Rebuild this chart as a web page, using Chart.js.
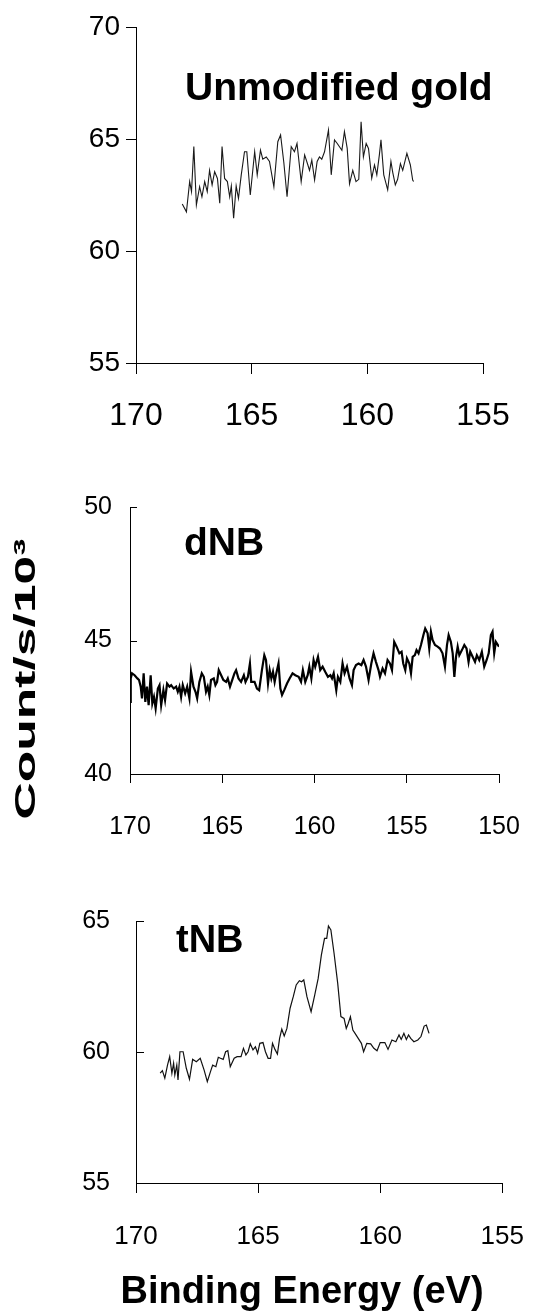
<!DOCTYPE html>
<html>
<head>
<meta charset="utf-8">
<script src="https://cdn.jsdelivr.net/npm/chart.js@4.4.1/dist/chart.umd.min.js"></script>
<style>
  body { margin: 0; background: #fff; }
  #wrap { position: relative; width: 552px; height: 1316px; }
  .panel { position: absolute; left: 0; }
</style>
</head>
<body>
<div id="wrap">
  <div class="panel" style="top:0;width:552px;height:440px"><canvas id="goldChart"></canvas></div>
  <div class="panel" style="top:470px;width:552px;height:400px"><canvas id="dnbChart"></canvas></div>
  <div class="panel" style="top:880px;width:552px;height:436px"><canvas id="tnbChart"></canvas></div>
</div>
<script>
// S 2p region, unmodified gold
const goldEnergy = [168.0, 167.82, 167.68, 167.6, 167.5, 167.39, 167.25, 167.15, 167.03, 166.92,
  166.82, 166.71, 166.6, 166.48, 166.38, 166.28, 166.17, 166.05, 165.95, 165.88,
  165.78, 165.67, 165.57, 165.45, 165.31, 165.21, 165.06, 164.87, 164.76, 164.62,
  164.52, 164.37, 164.23, 164.04, 163.87, 163.75, 163.61, 163.47, 163.29, 163.15,
  163.04, 162.86, 162.71, 162.57, 162.5, 162.4, 162.28, 162.17, 162.07, 161.97,
  161.85, 161.68, 161.56, 161.42, 161.3, 161.1, 160.99, 160.87, 160.77, 160.63,
  160.49, 160.37, 160.27, 160.17, 160.05, 159.95, 159.81, 159.69, 159.59, 159.48,
  159.41, 159.29, 159.12, 158.98, 158.9, 158.79, 158.69, 158.57, 158.47, 158.29,
  158.14, 158.04, 158.0];
const goldCounts = [62.1, 61.75, 63.1, 62.65, 64.66, 62.05, 62.87, 62.42, 63.1, 62.65,
  63.6, 62.95, 63.54, 63.24, 62.13, 64.66, 63.24, 63.1, 62.42, 62.9,
  61.46, 62.9, 62.35, 63.4, 64.43, 64.43, 62.5, 64.43, 63.4, 64.5,
  64.1, 64.2, 64.0, 62.87, 64.88, 65.18, 63.95, 62.42, 64.66, 64.43,
  64.8, 63.1, 64.29, 63.84, 63.6, 64.06, 63.17, 64.0, 64.2, 64.1,
  64.43, 65.4, 63.4, 64.96, 64.8, 64.5, 65.33, 64.58, 63.0, 63.6,
  63.1, 63.2, 65.77, 64.2, 64.8, 64.58, 63.25, 63.84, 63.4, 64.29,
  64.96, 63.4, 62.73, 64.0, 63.5, 62.95, 63.2, 63.9, 63.6, 64.36,
  63.84, 63.17, 63.1];

// dNB
const dnbEnergy = [170.0, 169.96, 169.89, 169.75, 169.6, 169.51, 169.42, 169.35, 169.26, 169.17,
  169.08, 168.99, 168.88, 168.79, 168.7, 168.61, 168.49, 168.4, 168.31, 168.19,
  168.1, 167.99, 167.86, 167.77, 167.63, 167.5, 167.41, 167.32, 167.23, 167.14,
  167.01, 166.9, 166.78, 166.69, 166.56, 166.45, 166.36, 166.24, 166.11, 166.0,
  165.88, 165.79, 165.7, 165.61, 165.46, 165.37, 165.28, 165.19, 165.06, 164.94,
  164.79, 164.7, 164.58, 164.43, 164.34, 164.25, 164.12, 163.98, 163.83, 163.74,
  163.61, 163.5, 163.43,
  163.25, 163.12, 163.0, 162.85, 162.72, 162.63, 162.52, 162.43, 162.34, 162.25,
  162.16, 162.07, 161.95, 161.85, 161.76, 161.64, 161.49, 161.35, 161.19, 161.04,
  160.86, 160.73, 160.63, 160.5, 160.37, 160.28, 160.17, 160.05, 159.96, 159.81,
  159.69, 159.56, 159.42, 159.27, 159.14, 159.05, 158.96, 158.82, 158.73, 158.6,
  158.48, 158.37, 158.24, 158.1, 157.97, 157.88, 157.75, 157.61, 157.46, 157.34,
  157.21, 157.07, 156.92, 156.8,
  156.67, 156.53, 156.45, 156.31, 156.18, 156.04, 155.91, 155.8, 155.68, 155.55,
  155.4, 155.28, 155.19, 155.08, 154.99, 154.86, 154.77, 154.68, 154.56, 154.47,
  154.36, 154.23, 154.1, 154.0, 153.87, 153.78, 153.69, 153.6, 153.47, 153.33,
  153.2, 153.06, 152.93, 152.82, 152.73, 152.61, 152.51, 152.42, 152.33, 152.24,
  152.15, 152.01, 151.88, 151.76, 151.65, 151.56, 151.43, 151.3, 151.2, 151.07,
  150.93, 150.8, 150.67, 150.56, 150.44, 150.35, 150.26, 150.17, 150.0];
const dnbCounts = [42.7, 43.58, 43.77, 43.7, 43.58, 43.52, 43.27, 42.83, 43.77, 42.7,
  43.27, 42.58, 43.7, 42.64, 42.89, 42.46, 43.2, 43.33, 42.58, 43.14,
  42.77, 43.39, 43.27, 43.33, 43.2, 43.27, 43.08, 43.27, 42.89, 43.33,
  43.02, 43.27, 42.83, 43.83, 43.27, 43.08, 42.83, 43.45, 43.77, 43.64,
  43.08, 43.27, 42.95, 43.52, 43.58, 43.33, 43.45, 43.89, 43.7, 43.52,
  43.45, 43.58, 43.27, 43.58, 43.77, 43.89, 43.58, 43.45, 43.7, 43.45,
  43.64, 44.14, 43.45,
  43.45, 43.2, 43.14, 43.89, 44.45, 44.27, 43.39, 43.89, 43.58, 43.83,
  43.45, 43.77, 44.14, 43.2, 42.96, 43.14, 43.39, 43.58, 43.77, 43.7,
  43.64, 43.45, 43.89, 43.45, 43.7, 44.02, 43.58, 44.27, 44.02, 44.39,
  43.89, 44.02, 43.83, 43.64, 43.7, 43.58, 43.77, 43.14, 43.64, 43.45,
  44.14, 43.77, 44.02, 43.58, 43.33, 43.89, 44.08, 44.14, 44.08, 44.27,
  44.02, 43.52, 44.14, 44.52,
  44.2, 43.89, 43.64, 43.95, 43.77, 44.27, 44.14, 43.89, 44.95, 44.77,
  44.52, 44.58, 44.14, 43.89, 44.33, 44.14, 43.77, 44.39, 44.45, 44.64,
  44.52, 44.83, 45.2, 45.45, 45.27, 44.7, 45.33, 45.02, 44.83, 44.77,
  44.7, 44.52, 44.02, 44.83, 45.2, 44.95, 44.52, 43.64, 44.39, 44.77,
  44.45, 44.64, 44.83, 44.7, 44.2, 44.58, 44.39, 44.2, 44.45, 44.27,
  44.58, 44.02, 44.27, 44.52, 45.2, 45.33, 44.52, 44.95, 44.77];

// tNB
const tnbEnergy = [169.01, 168.92, 168.82, 168.71, 168.62, 168.53, 168.46, 168.41, 168.33, 168.28,
  168.2, 168.07, 167.94, 167.81, 167.68, 167.53, 167.37, 167.21, 167.08, 166.95,
  166.86, 166.73, 166.63, 166.54, 166.43, 166.33, 166.24, 166.14, 165.98, 165.86,
  165.7, 165.6, 165.5, 165.41, 165.32, 165.21, 165.11, 165.02, 164.93, 164.8,
  164.7, 164.59, 164.49, 164.41, 164.31, 164.21, 164.12, 164.03, 163.93, 163.82,
  163.69, 163.56, 163.44, 163.31, 163.22, 163.13, 163.0, 162.83, 162.68, 162.54,
  162.41, 162.28, 162.19, 162.12, 162.02, 161.89, 161.74, 161.61, 161.48, 161.39,
  161.31, 161.22, 161.12, 161.03, 160.9, 160.77, 160.68, 160.55, 160.39, 160.26,
  160.13, 160.0, 159.81, 159.68, 159.52, 159.36, 159.23, 159.14, 159.03, 158.93,
  158.84, 158.75, 158.62, 158.46, 158.33, 158.2, 158.11, 158.0];
const tnbCounts = [59.19, 59.29, 59.0, 59.5, 59.82, 59.19, 59.57, 59.12, 59.5, 58.93,
  60.01, 60.01, 59.38, 58.96, 59.72, 59.63, 59.76, 59.31, 58.87, 59.25,
  59.5, 59.44, 59.8, 59.76, 59.72, 60.01, 60.05, 59.44, 59.76, 59.82,
  59.82, 60.14, 59.89, 60.01, 60.31, 60.08, 60.2, 59.95, 60.33, 60.36,
  60.01, 59.76, 59.76, 60.33, 60.1, 59.92, 60.52, 60.87, 60.61, 60.9,
  61.67, 62.11, 62.56, 62.72, 62.68, 62.75, 62.11, 61.54, 62.18, 62.81,
  63.7, 64.34, 64.34, 64.81, 64.66, 63.77, 62.62, 61.35, 61.28, 60.9,
  61.09, 61.35, 60.84, 60.71, 60.52, 60.33, 60.01, 60.33, 60.31, 60.14,
  60.05, 60.36, 60.36, 60.1, 60.46, 60.39, 60.65, 60.48, 60.71, 60.48,
  60.65, 60.52, 60.39, 60.46, 60.59, 60.99, 61.03, 60.71];

// axis ranges [min, max, step]
const goldX = [155, 170, 5], goldY = [55, 70, 5];
const dnbX = [150, 170, 5], dnbY = [40, 50, 5];
const tnbX = [155, 170, 5], tnbY = [55, 65, 5];

const FONT = "'Liberation Sans', Arial, sans-serif";

// free text: panel names and axis captions
const captionPlugin = {
  id: 'captions',
  afterDraw(chart, args, opts) {
    const ctx = chart.ctx;
    (opts.items || []).forEach(it => {
      ctx.save();
      ctx.translate(it.x, it.y);
      if (it.angle) ctx.rotate(it.angle * Math.PI / 180);
      if (it.sx) ctx.scale(it.sx, 1);
      ctx.font = it.font;
      ctx.fillStyle = '#000';
      ctx.textAlign = it.align || 'left';
      ctx.textBaseline = it.baseline || 'alphabetic';
      ctx.fillText(it.text, 0, 0);
      ctx.restore();
    });
  }
};

// short y ticks pointing into the plot
const innerTickPlugin = {
  id: 'innerTicks',
  afterDraw(chart, args, opts) {
    if (!opts.length) return;
    const y = chart.scales.y, ctx = chart.ctx;
    ctx.save();
    ctx.strokeStyle = '#000';
    ctx.lineWidth = 1;
    y.ticks.forEach(t => {
      const py = Math.round(y.getPixelForValue(t.value)) + 0.5;
      ctx.beginPath();
      ctx.moveTo(y.right, py);
      ctx.lineTo(y.right + opts.length, py);
      ctx.stroke();
    });
    ctx.restore();
  }
};

function makePanel(id, cfg) {
  const pts = cfg.energy.map((e, i) => ({ x: e, y: cfg.counts[i] }));
  return new Chart(document.getElementById(id), {
    type: 'line',
    data: {
      datasets: [{
        data: pts,
        borderColor: cfg.color,
        borderWidth: cfg.lineWidth,
        pointRadius: 0,
        tension: 0,
        fill: false
      }]
    },
    options: {
      responsive: true,
      maintainAspectRatio: false,
      animation: false,
      layout: { padding: cfg.padding },
      plugins: {
        legend: { display: false },
        tooltip: { enabled: false },
        captions: { items: cfg.captions },
        innerTicks: { length: cfg.innerTick || 0 }
      },
      scales: {
        x: {
          type: 'linear',
          reverse: true,
          min: cfg.xr[0], max: cfg.xr[1],
          afterFit: s => { s.height = cfg.xHeight; },
          border: { display: true, color: '#000', width: 1 },
          grid: { drawOnChartArea: false, drawTicks: true, tickLength: cfg.xTick, color: '#000' },
          ticks: { stepSize: cfg.xr[2], padding: cfg.xPad, color: '#000', maxRotation: 0,
                   font: { family: FONT, size: cfg.xFont } }
        },
        y: {
          min: cfg.yr[0], max: cfg.yr[1],
          afterFit: s => { s.width = cfg.yWidth; },
          border: { display: true, color: '#000', width: 1 },
          grid: { drawOnChartArea: false, drawTicks: !cfg.innerTick, tickLength: cfg.yTick || 0, color: '#000' },
          ticks: { stepSize: cfg.yr[2], padding: cfg.yPad, color: '#000',
                   font: { family: FONT, size: cfg.yFont } }
        }
      }
    },
    plugins: [captionPlugin, innerTickPlugin]
  });
}

makePanel('goldChart', {
  energy: goldEnergy, counts: goldCounts, xr: goldX, yr: goldY,
  color: '#1a1a1a', lineWidth: 1.1,
  padding: { top: 27, right: 69, left: 0, bottom: 0 },
  xHeight: 77, yWidth: 136, xTick: 11, yTick: 10,
  xPad: 23, yPad: 6, xFont: 32, yFont: 28,
  captions: [{ text: 'Unmodified gold', x: 185, y: 100, font: 'bold 39px ' + FONT }]
});

makePanel('dnbChart', {
  energy: dnbEnergy, counts: dnbCounts, xr: dnbX, yr: dnbY,
  color: '#000', lineWidth: 2.2,
  padding: { top: 37, right: 53, left: 0, bottom: 0 },
  xHeight: 96, yWidth: 130, xTick: 9, innerTick: 7,
  xPad: 29, yPad: 18, xFont: 25, yFont: 25,
  captions: [
    { text: 'dNB', x: 184, y: 85, font: 'bold 39px ' + FONT },
    { text: 'Count/s/10³', x: 27, y: 209, angle: -90, sx: 1.72, align: 'center',
      baseline: 'middle', font: 'bold 30px ' + FONT }
  ]
});

makePanel('tnbChart', {
  energy: tnbEnergy, counts: tnbCounts, xr: tnbX, yr: tnbY,
  color: '#111', lineWidth: 1.2,
  padding: { top: 41, right: 28, left: 0, bottom: 0 },
  xHeight: 133, yWidth: 136, xTick: 10, innerTick: 8,
  xPad: 28, yPad: 26, xFont: 26, yFont: 25,
  captions: [
    { text: 'tNB', x: 176, y: 72, font: 'bold 38px ' + FONT },
    { text: 'Binding Energy (eV)', x: 302, y: 423, align: 'center', font: 'bold 38px ' + FONT }
  ]
});
</script>
</body>
</html>
